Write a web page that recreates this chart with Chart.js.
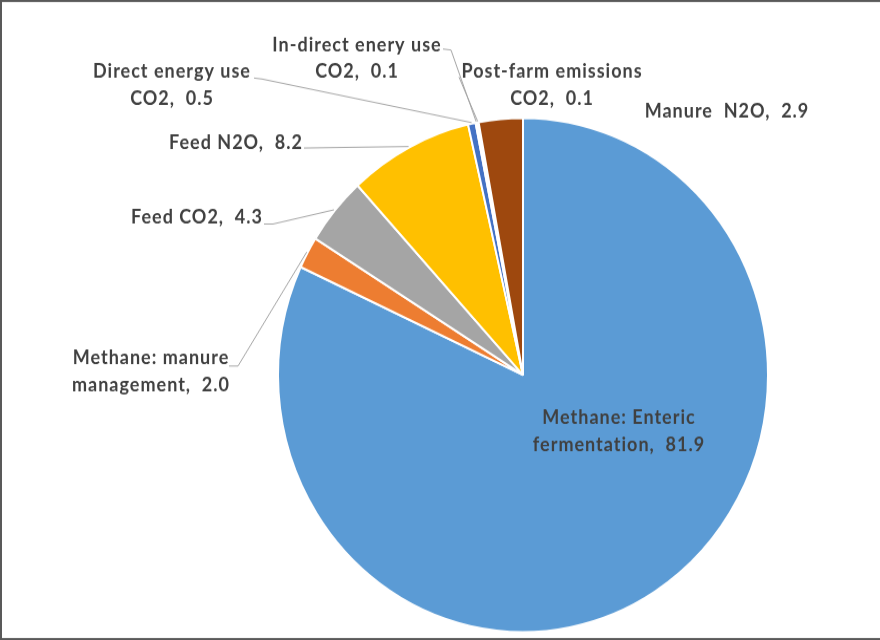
<!DOCTYPE html>
<html>
<head>
<meta charset="utf-8">
<script src="https://cdn.jsdelivr.net/npm/chart.js@4.4.1/dist/chart.umd.min.js"></script>
<style>
  html, body { margin: 0; padding: 0; background: #fff; }
</style>
</head>
<body>
<canvas id="c" width="880" height="610" style="display:block;width:880px;height:640px"></canvas>
<script>
// the canvas is drawn 610px tall and shown 640px tall (the original picture is a bit stretched)
var SY = 610 / 640;

var categories = [
  ["Methane: Enteric", "fermentation"],
  ["Methane: manure", "management"],
  ["Feed CO2"],
  ["Feed N2O"],
  ["Direct energy use", "CO2"],
  ["In-direct enery use", "CO2"],
  ["Post-farm emissions", "CO2"],
  ["Manure  N2O"]
];
var values = [81.9, 2.0, 4.3, 8.2, 0.5, 0.1, 0.1, 2.9];
var colors = ["#5b9bd5", "#ed7d31", "#a5a5a5", "#ffc000", "#4472c4", "#70ad47", "#264478", "#9e480e"];

// where each label sits (page px): centre x, first line y, and leader line start
var labelPos = [
  { x: 619, y: 418 },
  { x: 151, y: 358, lead: [[229, 366], [238, 366]] },
  { x: 197, y: 217, lead: [[264, 224], [273, 224]] },
  { x: 236, y: 143, lead: [[304, 148]] },
  { x: 172, y: 72,  lead: [[254, 78], [262, 79]] },
  { x: 357, y: 45,  lead: [[443, 49], [451, 50]] },
  { x: 552, y: 72,  lead: [[459, 77]] },
  { x: 727, y: 111 }
];
var lineGap = 27;

var framePlugin = {
  id: 'frame',
  beforeDraw: function(chart) {
    var ctx = chart.ctx;
    ctx.save();
    ctx.fillStyle = '#fff';
    ctx.fillRect(0, 0, chart.width, chart.height);
    ctx.fillStyle = '#595959';
    ctx.fillRect(0, 0, chart.width, 2 * SY);
    ctx.fillRect(0, 0, 2, chart.height);
    ctx.fillRect(0, 638 * SY, chart.width, 2 * SY);
    ctx.restore();
  },
  afterDraw: function(chart) {
    var ctx = chart.ctx;
    var meta = chart.getDatasetMeta(0);
    ctx.save();
    ctx.strokeStyle = '#a6a6a6';
    ctx.lineWidth = 1;
    meta.data.forEach(function(arc, i) {
      var p = labelPos[i];
      if (!p.lead) return;
      var a = arc.getProps(['x', 'y', 'startAngle', 'endAngle', 'outerRadius'], true);
      var mid = (a.startAngle + a.endAngle) / 2;
      ctx.beginPath();
      p.lead.forEach(function(q, k) {
        if (k) ctx.lineTo(q[0], q[1] * SY); else ctx.moveTo(q[0], q[1] * SY);
      });
      ctx.lineTo(a.x + Math.cos(mid) * (a.outerRadius + 1), a.y + Math.sin(mid) * (a.outerRadius + 1));
      ctx.stroke();
    });

    ctx.fillStyle = '#404040';
    ctx.font = 'bold 18px Lato';
    ctx.letterSpacing = '1px';
    ctx.textAlign = 'center';
    ctx.textBaseline = 'middle';
    categories.forEach(function(lines, i) {
      var p = labelPos[i];
      lines.forEach(function(t, k) {
        if (k == lines.length - 1) t = t + ',  ' + values[i].toFixed(1);
        ctx.fillText(t, p.x, (p.y + k * lineGap) * SY);
      });
    });
    ctx.restore();
  }
};

new Chart(document.getElementById('c'), {
  type: 'pie',
  data: {
    labels: categories.map(function(l) { return l.join(' '); }),
    datasets: [{
      data: values,
      backgroundColor: colors,
      borderColor: '#fff',
      borderWidth: 2
    }]
  },
  options: {
    responsive: false,
    animation: false,
    radius: 245,
    layout: { padding: { left: 278, right: 112, top: 112.4, bottom: 7.6 } },
    plugins: {
      legend: { display: false },
      tooltip: { enabled: false }
    }
  },
  plugins: [framePlugin]
});
</script>
</body>
</html>
